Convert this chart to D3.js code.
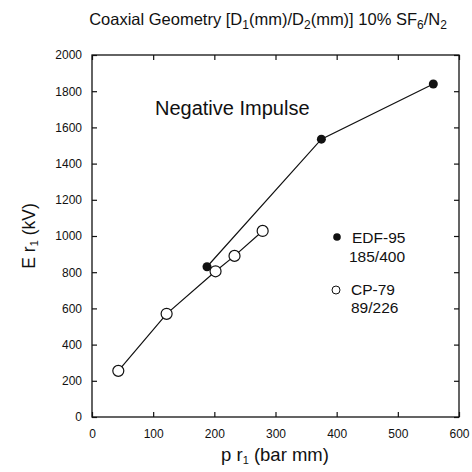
<!DOCTYPE html>
<html><head><meta charset="utf-8">
<script src="https://cdn.jsdelivr.net/npm/d3@7"></script>
<style>body{margin:0;background:#fff}svg{display:block}text{font-family:"Liberation Sans",Arial,sans-serif;fill:#111}</style>
</head><body><svg id="c" width="472" height="472"></svg>
<script>
const xTicks = [0,100,200,300,400,500,600];
const yTicks = [0,200,400,600,800,1000,1200,1400,1600,1800,2000];
const edfX = [188, 375, 558];
const edfY = [830, 1535, 1840];
const cpX = [43, 122, 202, 233, 279];
const cpY = [255, 570, 805, 890, 1028];

(function(){
const svg = d3.select("#c");
const x = d3.scaleLinear().domain([0,600]).range([92,459]);
const y = d3.scaleLinear().domain([0,2000]).range([417,55]);

const axisG = svg.append("g").attr("stroke","#111").attr("fill","none");
axisG.append("rect").attr("x",x(0)).attr("y",y(2000)).attr("width",x(600)-x(0)).attr("height",y(0)-y(2000)).attr("stroke-width",1.3);

const tl = 5;
const fmt = d3.format("d");
const gB = svg.append("g").attr("transform",`translate(0,${y(0)})`)
  .call(d3.axisBottom(x).tickValues(xTicks).tickFormat(fmt).tickSizeInner(-tl).tickSizeOuter(0).tickPadding(12));
const gT = svg.append("g").attr("transform",`translate(0,${y(2000)})`)
  .call(d3.axisTop(x).tickValues(xTicks).tickSizeInner(-tl).tickSizeOuter(0).tickFormat(""));
const gL = svg.append("g").attr("transform",`translate(${x(0)},0)`)
  .call(d3.axisLeft(y).tickValues(yTicks).tickFormat(fmt).tickSizeInner(-tl).tickSizeOuter(0).tickPadding(10));
const gR = svg.append("g").attr("transform",`translate(${x(600)},0)`)
  .call(d3.axisRight(y).tickValues(yTicks).tickSizeInner(-tl).tickSizeOuter(0).tickFormat(""));
[gB,gT,gL,gR].forEach(g=>{
  g.select(".domain").remove();
  g.selectAll("line").attr("stroke","#111").attr("stroke-width",1.2);
  g.selectAll("text").style("font-size","12px").style("font-family","Liberation Sans, Arial, sans-serif").attr("fill","#111");
});

const line = d3.line().x(d=>x(d[0])).y(d=>y(d[1]));
const edf = edfX.map((v,i)=>[v,edfY[i]]);
const cp = cpX.map((v,i)=>[v,cpY[i]]);
svg.append("path").attr("d",line(edf)).attr("fill","none").attr("stroke","#111").attr("stroke-width",1.2);
svg.append("path").attr("d",line(cp)).attr("fill","none").attr("stroke","#111").attr("stroke-width",1.2);
svg.selectAll(".edf").data(edf).join("circle").attr("class","edf").attr("cx",d=>x(d[0])).attr("cy",d=>y(d[1])).attr("r",4.5).attr("fill","#111");
svg.selectAll(".cp").data(cp).join("circle").attr("class","cp").attr("cx",d=>x(d[0])).attr("cy",d=>y(d[1])).attr("r",5.5).attr("fill","#fff").attr("stroke","#111").attr("stroke-width",1.2);

svg.append("text").attr("x",155).attr("y",115).style("font-size","20px").text("Negative Impulse");

svg.append("circle").attr("cx",337).attr("cy",237).attr("r",3.8).attr("fill","#111");
svg.append("text").attr("x",352).attr("y",243).style("font-size","15.5px").text("EDF-95");
svg.append("text").attr("x",349).attr("y",262).style("font-size","15.5px").text("185/400");
svg.append("circle").attr("cx",336).attr("cy",290).attr("r",4).attr("fill","#fff").attr("stroke","#111").attr("stroke-width",1);
svg.append("text").attr("x",351).attr("y",295).style("font-size","15.5px").text("CP-79");
svg.append("text").attr("x",351).attr("y",313).style("font-size","15.5px").text("89/226");

const t = svg.append("text").attr("x",268).attr("y",25).attr("text-anchor","middle").style("font-size","16.5px");
t.append("tspan").text("Coaxial Geometry [D");
t.append("tspan").attr("dy",4).style("font-size","12px").text("1");
t.append("tspan").attr("dy",-4).text("(mm)/D");
t.append("tspan").attr("dy",4).style("font-size","12px").text("2");
t.append("tspan").attr("dy",-4).text("(mm)] 10% SF");
t.append("tspan").attr("dy",4).style("font-size","12px").text("6");
t.append("tspan").attr("dy",-4).text("/N");
t.append("tspan").attr("dy",4).style("font-size","12px").text("2");

const xl = svg.append("text").attr("x",275).attr("y",461).attr("text-anchor","middle").style("font-size","18.5px");
xl.append("tspan").text("p r");
xl.append("tspan").attr("dy",3).style("font-size","11px").text("1");
xl.append("tspan").attr("dy",-3).text(" (bar mm)");

const yl = svg.append("text").attr("transform","translate(35,236) rotate(-90)").attr("text-anchor","middle").style("font-size","17.5px");
yl.append("tspan").text("E r");
yl.append("tspan").attr("dy",3).style("font-size","11px").text("1");
yl.append("tspan").attr("dy",-3).text(" (kV)");
})();
</script></body></html>
